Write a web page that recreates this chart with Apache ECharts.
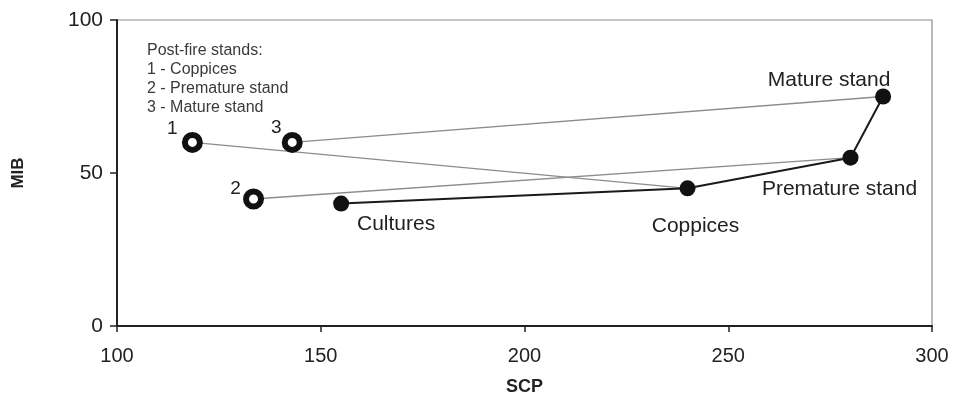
<!DOCTYPE html>
<html>
<head>
<meta charset="utf-8">
<script src="https://cdn.jsdelivr.net/npm/echarts@6/dist/echarts.min.js"></script>
<style>
  html, body { margin: 0; padding: 0; background: #fff; }
  #chart { width: 953px; height: 403px; }
</style>
</head>
<body>
<div id="chart"></div>
<script>
// Succession stages (SCP vs MIB)
const stageNames = ['Cultures', 'Coppices', 'Premature stand', 'Mature stand'];
const stageSCP = [155, 240, 280, 288];
const stageMIB = [40, 45, 55, 75];

// Post-fire stands, each linked to its unburnt counterpart
const postFireIds = ['1', '2', '3'];
const postFireSCP = [118.5, 133.5, 143];
const postFireMIB = [60, 41.5, 60];
const postFireTarget = ['Coppices', 'Premature stand', 'Mature stand'];

const legendLines = ['Post-fire stands:', '1 - Coppices', '2 - Premature stand', '3 - Mature stand'];

const xTicks = { min: 100, max: 300, interval: 50 };
const yTicks = { min: 0, max: 100, interval: 50 };

const font = 'Liberation Sans, Arial, sans-serif';

// label offsets (px) from each marker centre
const stageLabelOffset = {
  'Cultures': [55, 21],
  'Coppices': [8, 38],
  'Premature stand': [-11, 32],
  'Mature stand': [-54, -16]
};
const postFireLabelOffset = [[-20, -14], [-18, -10], [-16, -15]];

const stageData = stageNames.map((n, i) => ({
  value: [stageSCP[i], stageMIB[i]],
  label: {
    show: true, formatter: n, position: 'inside',
    align: 'center', verticalAlign: 'middle',
    offset: stageLabelOffset[n]
  }
}));

const postFireData = postFireIds.map((id, i) => ({
  value: [postFireSCP[i], postFireMIB[i]],
  label: {
    show: true, formatter: id, position: 'inside',
    align: 'center', verticalAlign: 'middle',
    offset: postFireLabelOffset[i]
  }
}));

const linkSeries = postFireIds.map((id, i) => {
  const t = stageNames.indexOf(postFireTarget[i]);
  return {
    type: 'line',
    symbol: 'none',
    silent: true,
    z: 1,
    lineStyle: { color: '#8c8c8c', width: 1.3 },
    data: [[postFireSCP[i], postFireMIB[i]], [stageSCP[t], stageMIB[t]]]
  };
});

const chart = echarts.init(document.getElementById('chart'), null, { renderer: 'canvas' });
chart.setOption({
  animation: false,
  backgroundColor: '#fff',
  grid: {
    left: 117, right: 21, top: 20, bottom: 77,
    show: true, borderColor: '#8c8c8c', borderWidth: 1.2
  },
  xAxis: {
    type: 'value',
    min: xTicks.min, max: xTicks.max, interval: xTicks.interval,
    name: 'SCP', nameLocation: 'middle', nameGap: 52,
    nameTextStyle: { fontFamily: font, fontSize: 18, fontWeight: 'bold', color: '#222' },
    axisLine: { show: true, lineStyle: { color: '#222', width: 2 } },
    axisTick: { show: true, length: 6, lineStyle: { color: '#222', width: 1.5 } },
    axisLabel: { fontFamily: font, fontSize: 20, color: '#222', margin: 20 },
    splitLine: { show: false }
  },
  yAxis: {
    type: 'value',
    min: yTicks.min, max: yTicks.max, interval: yTicks.interval,
    name: 'MIB', nameLocation: 'middle', nameGap: 90, nameRotate: 90,
    nameTextStyle: { fontFamily: font, fontSize: 17, fontWeight: 'bold', color: '#222' },
    axisLine: { show: true, lineStyle: { color: '#222', width: 2 } },
    axisTick: { show: true, length: 7, lineStyle: { color: '#222', width: 1.5 } },
    axisLabel: { fontFamily: font, fontSize: 21, color: '#222', margin: 14 },
    splitLine: { show: false }
  },
  graphic: [{
    type: 'text',
    left: 147, top: 41,
    style: {
      text: legendLines.join('\n'),
      font: '16px ' + font,
      fill: '#3a3a3a',
      lineHeight: 19
    }
  }],
  series: linkSeries.concat([
    {
      type: 'line',
      z: 3,
      symbol: 'circle',
      symbolSize: 16,
      itemStyle: { color: '#111', opacity: 1 },
      lineStyle: { color: '#1a1a1a', width: 2 },
      label: { fontFamily: font, fontSize: 21, color: '#222' },
      data: stageData
    },
    {
      type: 'scatter',
      z: 4,
      symbol: 'circle',
      symbolSize: 15,
      itemStyle: { color: '#fff', borderColor: '#111', borderWidth: 6, opacity: 1 },
      label: { fontFamily: font, fontSize: 19, color: '#222' },
      data: postFireData
    }
  ])
});
</script>
</body>
</html>
